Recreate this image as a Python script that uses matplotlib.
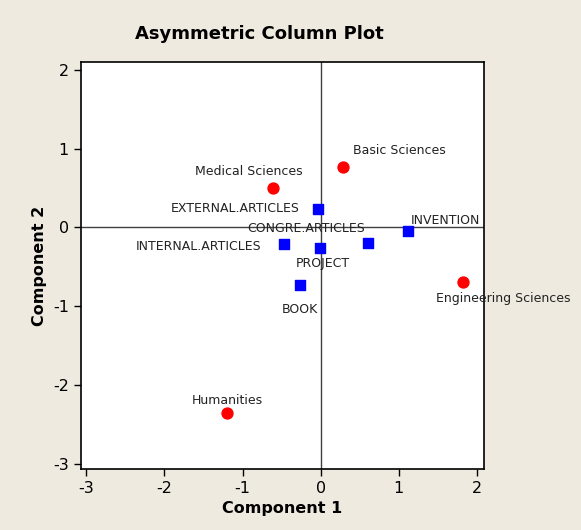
import numpy as np
import matplotlib.pyplot as plt

plt.rcParams['axes.unicode_minus'] = False

# row points (red circles)
row_names = ['Basic Sciences', 'Medical Sciences', 'Engineering Sciences', 'Humanities']
row_x = [0.29, -0.61, 1.82, -1.20]
row_y = [0.77, 0.50, -0.70, -2.36]

# column points (blue squares)
col_names = ['EXTERNAL.ARTICLES', 'CONGRE.ARTICLES', 'INTERNAL.ARTICLES',
             'PROJECT', 'INVENTION', 'BOOK']
col_x = [-0.03, 0.61, -0.47, -0.01, 1.12, -0.27]
col_y = [0.23, -0.20, -0.21, -0.26, -0.05, -0.73]

# label offsets in pixels
row_off = [(56, 16), (-24, 16), (40, -16), (0, 13)]
col_off = [(-83, 1), (-62, 15), (-85, -3), (3, -16), (37, 11), (0, -25)]

bg = '#eeeae0'
fig = plt.figure(figsize=(5.81, 5.30), dpi=100, facecolor=bg)
ax = fig.add_axes([0.139, 0.115, 0.694, 0.768])

ax.axhline(0, color='#404040', lw=1, zorder=1)
ax.axvline(0, color='#404040', lw=1, zorder=1)

ax.scatter(row_x, row_y, s=62, c='red', marker='o', zorder=3)
ax.scatter(col_x, col_y, s=55, c='blue', marker='s', zorder=3)

for name, x, y, off in zip(row_names, row_x, row_y, row_off):
    ax.annotate(name, (x, y), xytext=off, textcoords='offset pixels',
                ha='center', va='center', fontsize=9, color='#222222')
for name, x, y, off in zip(col_names, col_x, col_y, col_off):
    ax.annotate(name, (x, y), xytext=off, textcoords='offset pixels',
                ha='center', va='center', fontsize=9, color='#222222')

ax.set_xlim(-3.07, 2.09)
ax.set_ylim(-3.07, 2.10)
ax.set_xticks([-3, -2, -1, 0, 1, 2])
ax.set_yticks([-3, -2, -1, 0, 1, 2])
ax.tick_params(direction='out', length=5, width=1, labelsize=11.5, top=False, right=False)
for s in ax.spines.values():
    s.set_linewidth(1.2)

ax.set_xlabel('Component 1', fontsize=11.5, fontweight='bold')
ax.set_ylabel('Component 2', fontsize=11.5, fontweight='bold')
fig.text(0.446, 0.935, 'Asymmetric Column Plot', ha='center', va='center',
         fontsize=13, fontweight='bold')

fig.savefig('out.png', dpi=100, facecolor=bg)
